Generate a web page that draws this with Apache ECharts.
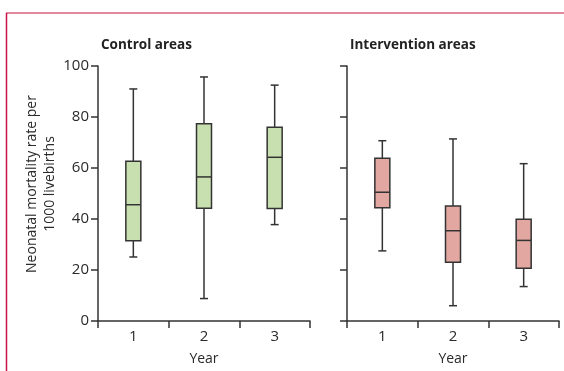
<!DOCTYPE html>
<html><head><meta charset="utf-8">
<script src="https://cdn.jsdelivr.net/npm/echarts@6/dist/echarts.min.js"></script>
<style>html,body{margin:0;padding:0;background:#fff}#c{width:564px;height:371px}</style>
</head><body><div id="c"></div>
<script>
const years = ['1', '2', '3'];
const yTicks = [0, 20, 40, 60, 80, 100];
// [min, Q1, median, Q3, max]
const controlMin = [25.1, 8.8, 37.8];
const controlQ1 = [31.5, 44.2, 44.1];
const controlMedian = [45.6, 56.5, 64.2];
const controlQ3 = [62.6, 77.4, 76.0];
const controlMax = [91.0, 95.7, 92.5];
const interventionMin = [27.5, 6.0, 13.5];
const interventionQ1 = [44.4, 23.0, 20.7];
const interventionMedian = [50.5, 35.4, 31.6];
const interventionQ3 = [63.8, 45.1, 39.9];
const interventionMax = [70.7, 71.4, 61.7];

const FONT = '"Open Sans"';
const TXT = '#2a2a2a';
const chart = echarts.init(document.getElementById('c'));

function build(mins, q1s, meds, q3s, maxs) {
  return years.map((y, i) => [i, mins[i], q1s[i], meds[i], q3s[i], maxs[i]]);
}
function renderBox(fill) {
  return function (params, api) {
    const x = api.value(0);
    const pMin = api.coord([x, api.value(1)]);
    const pQ1 = api.coord([x, api.value(2)]);
    const pMed = api.coord([x, api.value(3)]);
    const pQ3 = api.coord([x, api.value(4)]);
    const pMax = api.coord([x, api.value(5)]);
    const cx = pMed[0];
    const bw = 15, cw = 8;
    const ls = { stroke: '#333', lineWidth: 1.5 };
    return {
      type: 'group',
      children: [
        { type: 'line', shape: { x1: cx, y1: pMax[1], x2: cx, y2: pQ3[1] }, style: ls },
        { type: 'line', shape: { x1: cx, y1: pQ1[1], x2: cx, y2: pMin[1] }, style: ls },
        { type: 'line', shape: { x1: cx - cw / 2, y1: pMax[1], x2: cx + cw / 2, y2: pMax[1] }, style: ls },
        { type: 'line', shape: { x1: cx - cw / 2, y1: pMin[1], x2: cx + cw / 2, y2: pMin[1] }, style: ls },
        { type: 'rect', shape: { x: cx - bw / 2, y: pQ3[1], width: bw, height: pQ1[1] - pQ3[1] }, style: { fill: fill, stroke: '#333', lineWidth: 1.5 } },
        { type: 'line', shape: { x1: cx - bw / 2, y1: pMed[1], x2: cx + bw / 2, y2: pMed[1] }, style: ls }
      ]
    };
  };
}

const axisLine = { show: true, lineStyle: { color: '#333', width: 1.5 } };
const axisTick = { show: true, inside: false, length: 7, lineStyle: { color: '#333', width: 1.5 } };
function xAx(gi) {
  return {
    type: 'category', gridIndex: gi, data: years, boundaryGap: true,
    axisLine: axisLine, axisTick: Object.assign({ alignWithLabel: false }, axisTick),
    axisLabel: { color: TXT, fontSize: 15, fontFamily: FONT, margin: 8 },
    name: 'Year', nameLocation: 'middle', nameGap: 31,
    nameTextStyle: { color: TXT, fontSize: 14, fontFamily: FONT }
  };
}
function yAx(gi, showLabels) {
  return {
    type: 'value', gridIndex: gi, min: 0, max: 100, interval: 20,
    axisLine: axisLine, axisTick: axisTick, splitLine: { show: false },
    axisLabel: { show: showLabels, color: TXT, fontSize: 15, fontFamily: FONT, margin: 9 }
  };
}

chart.setOption({
  animation: false,
  backgroundColor: '#fff',
  title: [
    { text: 'Control areas', left: 96, top: 33, textStyle: { fontSize: 13.5, fontWeight: 'bold', fontFamily: FONT, color: '#222' } },
    { text: 'Intervention areas', left: 345, top: 33, textStyle: { fontSize: 13.5, fontWeight: 'bold', fontFamily: FONT, color: '#222' } }
  ],
  graphic: [
    { type: 'line', shape: { x1: 6, y1: 13, x2: 564, y2: 13 }, style: { stroke: '#d9607f', lineWidth: 1.5 } },
    { type: 'line', shape: { x1: 6.5, y1: 13, x2: 6.5, y2: 371 }, style: { stroke: '#c8124a', lineWidth: 1.5 } },
    { type: 'text', x: 41, y: 184, rotation: Math.PI / 2,
      style: { text: 'Neonatal mortality rate per\n1000 livebirths', fill: TXT, font: '14px ' + FONT, textAlign: 'center', textVerticalAlign: 'middle', lineHeight: 18 } }
  ],
  grid: [
    { left: 98, top: 66, width: 212, height: 255 },
    { left: 347, top: 66, width: 212, height: 255 }
  ],
  xAxis: [xAx(0), xAx(1)],
  yAxis: [yAx(0, true), yAx(1, false)],
  series: [
    { type: 'custom', xAxisIndex: 0, yAxisIndex: 0, renderItem: renderBox('#c8dfb0'),
      encode: { x: 0, y: [1, 2, 3, 4, 5] },
      data: build(controlMin, controlQ1, controlMedian, controlQ3, controlMax) },
    { type: 'custom', xAxisIndex: 1, yAxisIndex: 1, renderItem: renderBox('#e2a7a0'),
      encode: { x: 0, y: [1, 2, 3, 4, 5] },
      data: build(interventionMin, interventionQ1, interventionMedian, interventionQ3, interventionMax) }
  ]
});
</script></body></html>
